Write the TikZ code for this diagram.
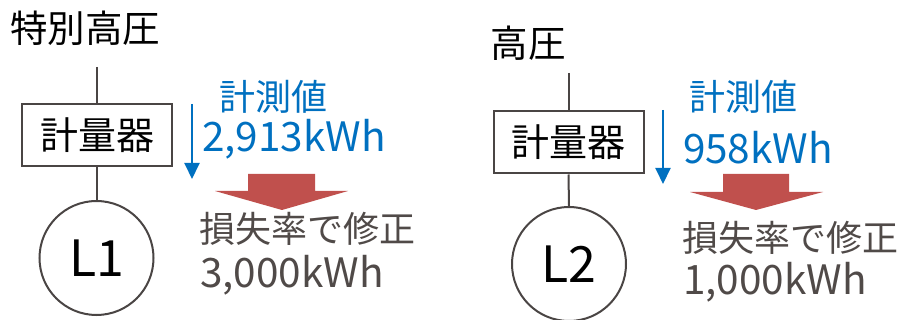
\documentclass[tikz,border=0pt]{standalone}
\usepackage{fontspec}
\setmainfont{Noto Sans CJK JP}
\usetikzlibrary{arrows.meta}
\definecolor{lineg}{RGB}{74,69,68}
\definecolor{txtg}{RGB}{80,74,72}
\definecolor{mblue}{RGB}{0,112,192}
\definecolor{mred}{RGB}{192,80,77}
\tikzset{
  wire/.style={draw=lineg, line width=2pt},
  meterbox/.style={draw=lineg, line width=2pt, minimum width=150pt, minimum height=62pt, inner sep=0pt, font=\fontsize{38}{42}\selectfont},
  loadcirc/.style={draw=lineg, line width=2pt, circle, minimum size=114pt, inner sep=0pt, font=\fontsize{50}{54}\selectfont},
  title/.style={inner sep=0pt, font=\fontsize{37.5}{40}\selectfont},
  bluelbl/.style={inner sep=0pt, text=mblue, font=\fontsize{36}{40}\selectfont},
  bluenum/.style={inner sep=0pt, text=mblue, font=\fontsize{40.5}{44}\selectfont},
  graylbl/.style={inner sep=0pt, text=txtg, font=\fontsize{36}{40}\selectfont},
  graynum/.style={inner sep=0pt, text=txtg, font=\fontsize{40.5}{44}\selectfont},
  measarrow/.style={draw=mblue, line width=2pt, -{Triangle[width=15pt,length=16pt]}},
  blockarrow/.style={fill=mred, draw=none},
}
\begin{document}
\begin{tikzpicture}[x=1pt,y=-1pt]
\useasboundingbox (0,0) rectangle (902,320);
% left group
\node[title] (t1) at (85,28) {特別高圧};
\coordinate (top1) at (96.5,67);
\node[meterbox] (box1) at (97,135.5) {計量器};
\node[loadcirc] (c1) at (96.5,258) {L1};
\draw[wire] (top1) -- (box1.north -| top1);
\draw[wire] (box1.south -| top1) -- (c1.north);
\coordinate (b1s) at (192,104);
\coordinate (b1e) at (192,179);
\draw[measarrow] (b1s) -- (b1e);
\node[bluelbl] (m1) at (273,97) {計測値};
\node[bluenum] (v1) at (294,139) {2,913kWh};
\fill[blockarrow] (248,174) -- (315,174) -- (315,191) -- (348,191) -- (282,210) -- (215,191) -- (248,191) -- cycle;
\node[graylbl] (k1) at (307,229) {損失率で修正};
\node[graynum] (r1) at (292,275) {3,000kWh};
% right group
\node[title] (t2) at (528,43) {高圧};
\coordinate (top2) at (568.5,73);
\node[meterbox] (box2) at (568.5,142.5) {計量器};
\node[loadcirc] (c2) at (569,264) {L2};
\draw[wire] (top2) -- (box2.north -| top2);
\draw[wire] (box2.south -| top2) -- (c2.north);
\coordinate (b2s) at (663,110);
\coordinate (b2e) at (663,184);
\draw[measarrow] (b2s) -- (b2e);
\node[bluelbl] (m2) at (743,97) {計測値};
\node[bluenum] (v2) at (758,148) {958kWh};
\fill[blockarrow] (723,174) -- (789,174) -- (789,192) -- (823,192) -- (756,210) -- (690,192) -- (723,192) -- cycle;
\node[graylbl] (k2) at (790,238) {損失率で修正};
\node[graynum] (r2) at (775,282) {1,000kWh};
\end{tikzpicture}
\end{document}
